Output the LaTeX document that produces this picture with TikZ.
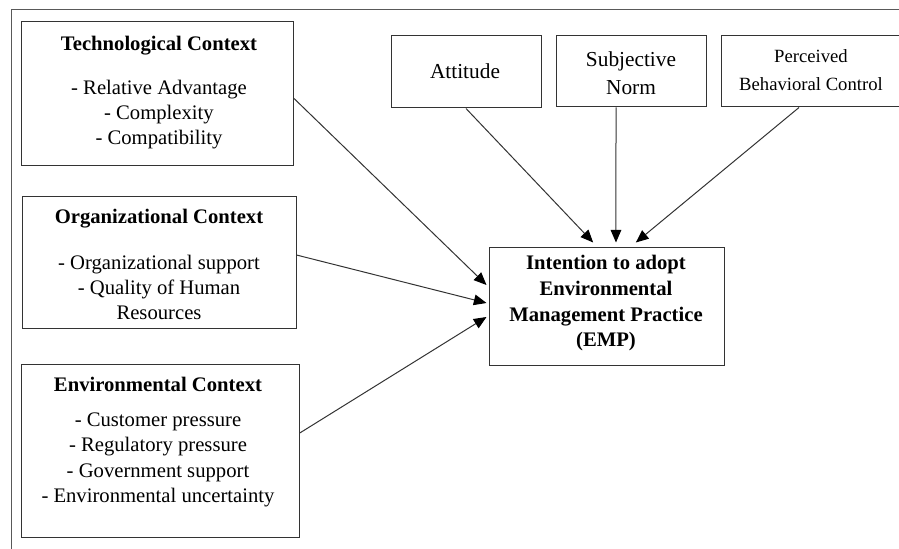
\documentclass[tikz,border=0pt]{standalone}
\usepackage{fontspec}
\setmainfont{Liberation Serif}
\usetikzlibrary{arrows.meta}

\begin{document}
\begin{tikzpicture}[x=0.75pt,y=0.75pt,yscale=-1,xscale=1,
	box/.style={draw=black!80, line width=0.75pt, inner sep=0pt},
	txt/.style={align=center, inner sep=0.75pt, font=\fontsize{15.5}{18.75}\selectfont},
	tpbtxt/.style={align=center, inner sep=0.75pt, font=\fontsize{14}{20.6}\selectfont},
	arr/.style={draw=black!80, line width=0.75pt, -{Triangle[length=9.5pt,width=8pt,color=black]}}]
	\useasboundingbox (0,0) rectangle (899,549);
	\clip (0,0) rectangle (899,549);
	% outer frame
	\draw [color=black!65, line width=0.75pt] (11,549) -- (11,10) -- (899,10) ;
	% TOE boxes
	\node [box, minimum width=204pt, minimum height=108pt] (tech) at (157,94) {};
	\node [box, minimum width=205.5pt, minimum height=99pt] (org) at (159,262) {};
	\node [box, minimum width=208.5pt, minimum height=129.75pt] (env) at (160,450.5) {};
	\node [txt] (techtxt) at (159,92.5) {\textbf{Technological Context}\\[14.25pt] - Relative Advantage\\ - Complexity\\ - Compatibility};
	\node [txt] (orgtxt) at (159,264) {\textbf{Organizational Context}\\[15.75pt] - Organizational support\\ - Quality of Human\\ Resources};
	\node [txt, font=\fontsize{15.5}{19.2}\selectfont] (envtxt) at (158,442) {\textbf{Environmental Context}\\[7pt] - Customer pressure\\ - Regulatory pressure\\ - Government support\\ - Environmental uncertainty};
	% TPB boxes
	\node [box, minimum width=112.5pt, minimum height=54pt] (att) at (466,72) {};
	\node [box, minimum width=112.5pt, minimum height=53.25pt] (subj) at (631,71.5) {};
	\node [box, minimum width=135pt, minimum height=53.25pt] (pbc) at (811,71.5) {};
	\node [tpbtxt, font=\fontsize{16}{21}\selectfont] (atttxt) at (465,71) {Attitude};
	\node [tpbtxt, font=\fontsize{16}{21}\selectfont] (subjtxt) at (631,73.5) {Subjective\\ Norm};
	\node [tpbtxt] (pbctxt) at (811,70) {Perceived\\ Behavioral Control};
	% EMP box
	\node [box, minimum width=176.25pt, minimum height=88.5pt] (emp) at (606.5,306) {};
	\node [txt, font=\bfseries\fontsize{15.5}{19.25}\selectfont] (emptxt) at (606,303.5) {Intention to adopt\\ Environmental\\ Management Practice\\ (EMP)};
	% arrows (yshift is flipped by yscale=-1)
	\draw [arr] ([yshift=3pt]tech.east) -- ([xshift=-1.5pt,yshift=-15.75pt]emp.west) ;
	\draw [arr] ([yshift=-5.25pt]org.east) -- ([xshift=-1.5pt,yshift=-2.25pt]emp.west) ;
	\draw [arr] ([yshift=-13pt]env.east) -- ([xshift=-1.5pt,yshift=8.25pt]emp.west) ;
	\draw [arr] (att.south) -- ([xshift=-10pt,yshift=-3pt]emp.north) ;
	\draw [arr] ([xshift=-11.25pt]subj.south) -- ([xshift=7.1pt,yshift=-3pt]emp.north) ;
	\draw [arr] ([xshift=-9pt]pbc.south) -- ([xshift=22pt,yshift=-3pt]emp.north) ;
\end{tikzpicture}
\end{document}
